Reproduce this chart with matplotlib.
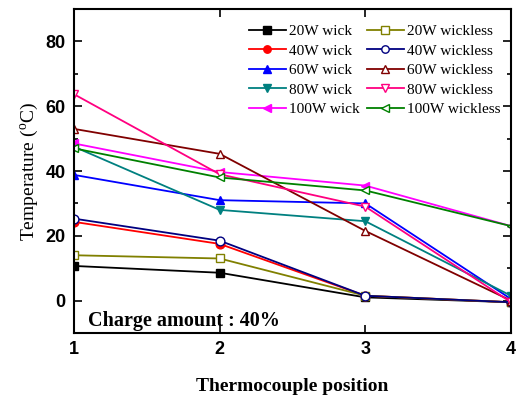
import matplotlib
matplotlib.use("Agg")
import matplotlib.pyplot as plt
from matplotlib.ticker import MultipleLocator

positions = [1, 2, 3, 4]

wick_20 = [10.7, 8.6, 1.0, -0.5]
wick_40 = [24.3, 17.5, 1.5, -0.5]
wick_60 = [38.8, 31.0, 30.0, 0.5]
wick_80 = [47.5, 28.0, 24.5, 1.5]
wick_100 = [48.5, 39.7, 35.5, 23.0]
wickless_20 = [14.0, 13.0, 1.5, -0.5]
wickless_40 = [25.3, 18.5, 1.5, -0.5]
wickless_60 = [53.0, 45.3, 21.5, 0.0]
wickless_80 = [63.7, 39.0, 29.0, -0.5]
wickless_100 = [47.0, 38.0, 34.0, 23.0]

labels = ["20W wick", "40W wick", "60W wick", "80W wick", "100W wick",
          "20W wickless", "40W wickless", "60W wickless", "80W wickless", "100W wickless"]
series = [wick_20, wick_40, wick_60, wick_80, wick_100,
          wickless_20, wickless_40, wickless_60, wickless_80, wickless_100]
colors = ["#000000", "#FF0000", "#0000FF", "#008080", "#FF00FF",
          "#808000", "#000080", "#800000", "#FF0080", "#008000"]
markers = ["s", "o", "^", "v", "<", "s", "o", "^", "v", "<"]
filled = [True] * 5 + [False] * 5

fig = plt.figure(figsize=(5.18, 3.99), dpi=100)
ax = fig.add_axes([0.1429, 0.1654, 0.8436, 0.812])

for y, lab, c, m, f in zip(series, labels, colors, markers, filled):
    ax.plot(positions, y, color=c, marker=m, markersize=6.3, linewidth=1.3,
            markerfacecolor=c if f else "white", markeredgecolor=c,
            markeredgewidth=1.0, label=lab)

ax.set_xlim(1, 4)
ax.set_ylim(-10, 90)
ax.xaxis.set_major_locator(MultipleLocator(1))
ax.yaxis.set_major_locator(MultipleLocator(20))
ax.yaxis.set_minor_locator(MultipleLocator(10))
ax.tick_params(which="both", direction="in", top=True, right=True, width=1.2)
ax.tick_params(which="major", length=6, labelsize=13, pad=6)
ax.tick_params(which="minor", length=3)
for lab in ax.get_xticklabels() + ax.get_yticklabels():
    lab.set_fontweight("bold")
    lab.set_fontfamily("Liberation Sans")
for s in ax.spines.values():
    s.set_linewidth(1.5)

ax.set_xlabel("Thermocouple position", fontsize=14, fontweight="bold",
              family="Liberation Serif", labelpad=14)
ax.set_ylabel("Temperature ($\\mathregular{^o}$C)", fontsize=14,
              family="Liberation Serif", labelpad=4)

ax.text(0.033, 0.038, "Charge amount : 40%", transform=ax.transAxes, fontsize=14.5,
        fontweight="bold", family="Liberation Serif", va="center")

leg = ax.legend(ncol=2, loc="upper right", bbox_to_anchor=(1.0, 0.985), frameon=False,
                prop={"family": "Liberation Serif", "size": 11},
                labelspacing=0.38, handlelength=2.4, handletextpad=0.2,
                columnspacing=0.5, borderaxespad=0.3, markerscale=0.85)

fig.savefig("out.png", dpi=100)
